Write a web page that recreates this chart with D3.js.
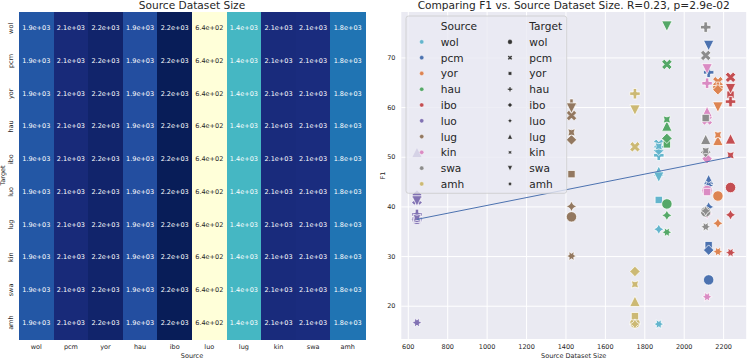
<!DOCTYPE html>
<html>
<head>
<meta charset="utf-8">
<script src="https://cdn.jsdelivr.net/npm/d3@7"></script>
<style>
body { margin: 0; background: #fff; }
text { font-family: "DejaVu Sans", sans-serif; fill: #262626; }
</style>
</head>
<body>
<svg id="chart" width="747" height="359"></svg>
<script>
var langs = ['wol', 'pcm', 'yor', 'hau', 'ibo', 'luo', 'lug', 'kin', 'swa', 'amh'];
var sourceSize = [1871, 2124, 2171, 1912, 2235, 644, 1428, 2116, 2109, 1750];
var sourceColors = ['#64b5cd', '#4c72b0', '#dd8452', '#55a868', '#c44e52', '#8172b3', '#937860', '#da8bc3', '#8c8c8c', '#ccb974'];
var targetMarkers = ['o', 'X', 's', 'P', 'D', 'star4', '^', 'star4r', 'v', 'star6'];

// F1 per source language, targets in langs order (null = same language)
var f1_wol = [null, 52.6, 41.4, 50.4, 51.4, 35.5, 47.2, 52.2, 46.0, 16.4];
var f1_pcm = [25.3, null, 32.3, 67.1, 31.3, 40.0, 45.5, 43.2, 72.5, 44.3];
var f1_yor = [42.2, 65.2, null, 64.1, 63.6, 36.7, 53.4, 54.5, 60.1, 31.0];
var f1_hau = [40.6, 68.7, 52.6, null, 53.8, 38.3, 56.3, 57.6, 76.4, 34.9];
var f1_ibo = [43.9, 66.1, 62.6, 61.2, null, 38.4, 53.7, 50.4, 63.8, 30.8];
var f1_luo = [37.5, 41.4, 37.6, 38.5, 42.4, null, 51.0, 37.8, 41.2, 16.7];
var f1_lug = [38.0, 58.4, 46.6, 60.7, 53.5, 40.1, null, 55.0, 59.9, 30.1];
var f1_kin = [43.3, 57.5, 43.0, 64.9, 49.7, 38.6, 59.2, null, 67.8, 21.9];
var f1_swa = [39.0, 70.5, 57.9, 76.2, 51.0, 39.2, 53.6, 51.3, null, 36.0];
var f1_amh = [16.6, 52.1, 18.0, 62.8, 27.0, 16.4, 21.0, 24.4, 59.5, null];
var f1Rows = [f1_wol, f1_pcm, f1_yor, f1_hau, f1_ibo, f1_luo, f1_lug, f1_kin, f1_swa, f1_amh];

var xTicks = [600, 800, 1000, 1200, 1400, 1600, 1800, 2000, 2200];
var yTicks = [20, 30, 40, 50, 60, 70];
var ylgnbu = ['#ffffd9', '#edf8b1', '#c7e9b4', '#7fcdbb', '#41b6c4', '#1d91c0', '#225ea8', '#253494', '#081d58'];

var svg = d3.select('#chart');

// ---------- heatmap ----------
var hm = {left: 19, right: 365, top: 12, bottom: 339};
var hx = d3.scaleBand().domain(langs).range([hm.left, hm.right]);
var hy = d3.scaleBand().domain(langs).range([hm.top, hm.bottom]);
var vmin = d3.min(sourceSize), vmax = d3.max(sourceSize);
var color = d3.scaleLinear()
    .domain(ylgnbu.map(function(c, i) { return vmin + (vmax - vmin) * i / (ylgnbu.length - 1); }))
    .range(ylgnbu)
    .interpolate(d3.interpolateRgb);

function sci(v) {
    return d3.format('.1e')(v).replace(/e([+-])(\d)$/, 'e$10$2');
}
function lum(c) {
    var rgb = d3.rgb(c);
    var f = function(v) { v /= 255; return v <= 0.03928 ? v / 12.92 : Math.pow((v + 0.055) / 1.055, 2.4); };
    return 0.2126 * f(rgb.r) + 0.7152 * f(rgb.g) + 0.0722 * f(rgb.b);
}

var cells = [];
langs.forEach(function(t) {
    langs.forEach(function(s, i) { cells.push({target: t, source: s, value: sourceSize[i]}); });
});

var hg = svg.append('g');
hg.selectAll('rect').data(cells).enter().append('rect')
    .attr('x', function(d) { return hx(d.source); })
    .attr('y', function(d) { return hy(d.target); })
    .attr('width', hx.bandwidth() + 0.5)
    .attr('height', hy.bandwidth() + 0.5)
    .attr('shape-rendering', 'crispEdges')
    .style('fill', function(d) { return color(d.value); });

hg.selectAll('text.val').data(cells).enter().append('text')
    .attr('class', 'val')
    .attr('x', function(d) { return hx(d.source) + hx.bandwidth() / 2; })
    .attr('y', function(d) { return hy(d.target) + hy.bandwidth() / 2; })
    .attr('text-anchor', 'middle')
    .attr('dominant-baseline', 'central')
    .style('font-size', '6.5px')
    .style('fill', function(d) { return lum(color(d.value)) > 0.408 ? '#262626' : '#ffffff'; })
    .text(function(d) { return sci(d.value); });

hg.selectAll('text.xt').data(langs).enter().append('text')
    .attr('class', 'xt')
    .attr('x', function(d) { return hx(d) + hx.bandwidth() / 2; })
    .attr('y', 347)
    .attr('text-anchor', 'middle')
    .attr('dominant-baseline', 'central')
    .style('font-size', '6.5px')
    .text(function(d) { return d; });

hg.selectAll('text.yt').data(langs).enter().append('text')
    .attr('class', 'yt')
    .attr('transform', function(d) { return 'translate(10.5,' + (hy(d) + hy.bandwidth() / 2) + ') rotate(-90)'; })
    .attr('text-anchor', 'middle')
    .attr('dominant-baseline', 'central')
    .style('font-size', '6.5px')
    .text(function(d) { return d; });

hg.append('text').attr('x', (hm.left + hm.right) / 2).attr('y', 355.5)
    .attr('text-anchor', 'middle').attr('dominant-baseline', 'central')
    .style('font-size', '6.5px').text('Source');
hg.append('text').attr('transform', 'translate(2.8,' + (hm.top + hm.bottom) / 2 + ') rotate(-90)')
    .attr('text-anchor', 'middle').attr('dominant-baseline', 'central')
    .style('font-size', '6.5px').text('Target');
hg.append('text').attr('x', (hm.left + hm.right) / 2).attr('y', 8.6)
    .attr('text-anchor', 'middle')
    .style('font-size', '10.6px').text('Source Dataset Size');

// ---------- scatter ----------
var pm = {left: 401.3, right: 746.2, top: 12, bottom: 339};
var x = d3.scaleLinear().domain([564.5, 2314.5]).range([pm.left, pm.right]);
var y = d3.scaleLinear().domain([13.4, 79.25]).range([pm.bottom, pm.top]);

var sg = svg.append('g');
sg.append('rect').attr('x', pm.left).attr('y', pm.top)
    .attr('width', pm.right - pm.left).attr('height', pm.bottom - pm.top)
    .style('fill', '#eaeaf2');

sg.selectAll('line.gx').data(xTicks).enter().append('line')
    .attr('x1', x).attr('x2', x).attr('y1', pm.top).attr('y2', pm.bottom)
    .style('stroke', '#fff').style('stroke-width', 1);
sg.selectAll('line.gy').data(yTicks).enter().append('line')
    .attr('y1', y).attr('y2', y).attr('x1', pm.left).attr('x2', pm.right)
    .style('stroke', '#fff').style('stroke-width', 1);

sg.selectAll('text.xt').data(xTicks).enter().append('text')
    .attr('x', x).attr('y', 347)
    .attr('text-anchor', 'middle').attr('dominant-baseline', 'central')
    .style('font-size', '6.5px').text(function(d) { return d; });
sg.selectAll('text.yt').data(yTicks).enter().append('text')
    .attr('x', 395.5).attr('y', y)
    .attr('text-anchor', 'end').attr('dominant-baseline', 'central')
    .style('font-size', '6.5px').text(function(d) { return d; });

sg.append('text').attr('x', (pm.left + pm.right) / 2).attr('y', 355.5)
    .attr('text-anchor', 'middle').attr('dominant-baseline', 'central')
    .style('font-size', '6.5px').text('Source Dataset Size');
sg.append('text').attr('transform', 'translate(383,' + (pm.top + pm.bottom) / 2 + ') rotate(-90)')
    .attr('text-anchor', 'middle').attr('dominant-baseline', 'central')
    .style('font-size', '6.5px').text('F1');
sg.append('text').attr('x', (pm.left + pm.right) / 2).attr('y', 8.6)
    .attr('text-anchor', 'middle')
    .style('font-size', '10.6px').text('Comparing F1 vs. Source Dataset Size. R=0.23, p=2.9e-02');

// matplotlib-like marker paths, unit coords with y up
function poly(pts, ms) {
    return 'M' + pts.map(function(p) { return (p[0] * ms).toFixed(2) + ',' + (-p[1] * ms).toFixed(2); }).join('L') + 'Z';
}
function star(n, rot) {
    var pts = [];
    for (var i = 0; i < 2 * n; i++) {
        var a = Math.PI / 2 + rot * Math.PI / 180 + i * Math.PI / n;
        var r = i % 2 ? 0.25 : 0.5;
        pts.push([r * Math.cos(a), r * Math.sin(a)]);
    }
    return pts;
}
function markerPath(type, ms) {
    var h = 0.3536;
    switch (type) {
    case 'o':
        var r = ms / 2;
        return 'M' + r + ',0A' + r + ',' + r + ' 0 1,1 ' + (-r) + ',0A' + r + ',' + r + ' 0 1,1 ' + r + ',0Z';
    case 'X':
        return poly([[-1,-2],[0,-1],[1,-2],[2,-1],[1,0],[2,1],[1,2],[0,1],[-1,2],[-2,1],[-1,0],[-2,-1]].map(function(p) { return [p[0] / 4, p[1] / 4]; }), ms);
    case 's':
        return poly([[-h,-h],[h,-h],[h,h],[-h,h]], ms);
    case 'P':
        return poly([[-1,-3],[1,-3],[1,-1],[3,-1],[3,1],[1,1],[1,3],[-1,3],[-1,1],[-3,1],[-3,-1],[-1,-1]].map(function(p) { return [p[0] / 6, p[1] / 6]; }), ms);
    case 'D':
        return poly([[0,0.5],[-0.5,0],[0,-0.5],[0.5,0]], ms);
    case 'star4':
        return poly(star(4, 0), ms);
    case 'star4r':
        return poly(star(4, 45), ms);
    case '^':
        return poly([[0,0.5],[-0.5,-0.5],[0.5,-0.5]], ms);
    case 'v':
        return poly([[0,-0.5],[-0.5,0.5],[0.5,0.5]], ms);
    case 'star6':
        return poly(star(6, 30), ms);
    }
}

var points = [];
f1Rows.forEach(function(row, s) {
    row.forEach(function(v, t) {
        if (v !== null) points.push({source: s, target: t, size: sourceSize[s], f1: v});
    });
});

// least squares fit
var mx = d3.mean(points, function(d) { return d.size; });
var my = d3.mean(points, function(d) { return d.f1; });
var slope = d3.sum(points, function(d) { return (d.size - mx) * (d.f1 - my); }) /
    d3.sum(points, function(d) { return (d.size - mx) * (d.size - mx); });
var icpt = my - slope * mx;
var fitX = d3.extent(points, function(d) { return d.size; });

var ms = 10.4;
sg.selectAll('path.pt').data(points).enter().append('path')
    .attr('class', 'pt')
    .attr('transform', function(d) { return 'translate(' + x(d.size) + ',' + y(d.f1) + ')'; })
    .attr('d', function(d) { return markerPath(targetMarkers[d.target], ms); })
    .style('fill', function(d) { return sourceColors[d.source]; })
    .style('stroke', '#fff')
    .style('stroke-width', 0.75);

sg.append('line')
    .attr('x1', x(fitX[0])).attr('y1', y(icpt + slope * fitX[0]))
    .attr('x2', x(fitX[1])).attr('y2', y(icpt + slope * fitX[1]))
    .style('stroke', '#4c72b0').style('stroke-width', 1);

// legend
var lg = sg.append('g');
lg.append('rect').attr('x', 406).attr('y', 16).attr('width', 160.7).attr('height', 177.3)
    .attr('rx', 2.5)
    .style('fill', '#eaeaf2').style('fill-opacity', 0.8)
    .style('stroke', '#cccccc').style('stroke-width', 0.8);

var rowY = function(i) { return 41.9 + i * 15.78; };
var cols = [{title: 'Source', mx: 421.7, tx: 440.7}, {title: 'Target', mx: 510, tx: 529.3}];
cols.forEach(function(c, ci) {
    lg.append('text').attr('x', c.tx).attr('y', 25.8)
        .attr('dominant-baseline', 'central')
        .style('font-size', '10.6px').text(c.title);
    lg.selectAll('path.m' + ci).data(langs).enter().append('path')
        .attr('transform', function(d, i) { return 'translate(' + c.mx + ',' + rowY(i) + ')'; })
        .attr('d', function(d, i) { return ci === 0 ? markerPath('o', 4.2) : markerPath(targetMarkers[i], 4.6); })
        .style('fill', function(d, i) { return ci === 0 ? sourceColors[i] : '#333333'; })
        .style('stroke', '#fff').style('stroke-width', 0.3);
    lg.selectAll('text.l' + ci).data(langs).enter().append('text')
        .attr('x', c.tx).attr('y', function(d, i) { return rowY(i); })
        .attr('dominant-baseline', 'central')
        .style('font-size', '10.6px').text(function(d) { return d; });
});
</script>
</body>
</html>
